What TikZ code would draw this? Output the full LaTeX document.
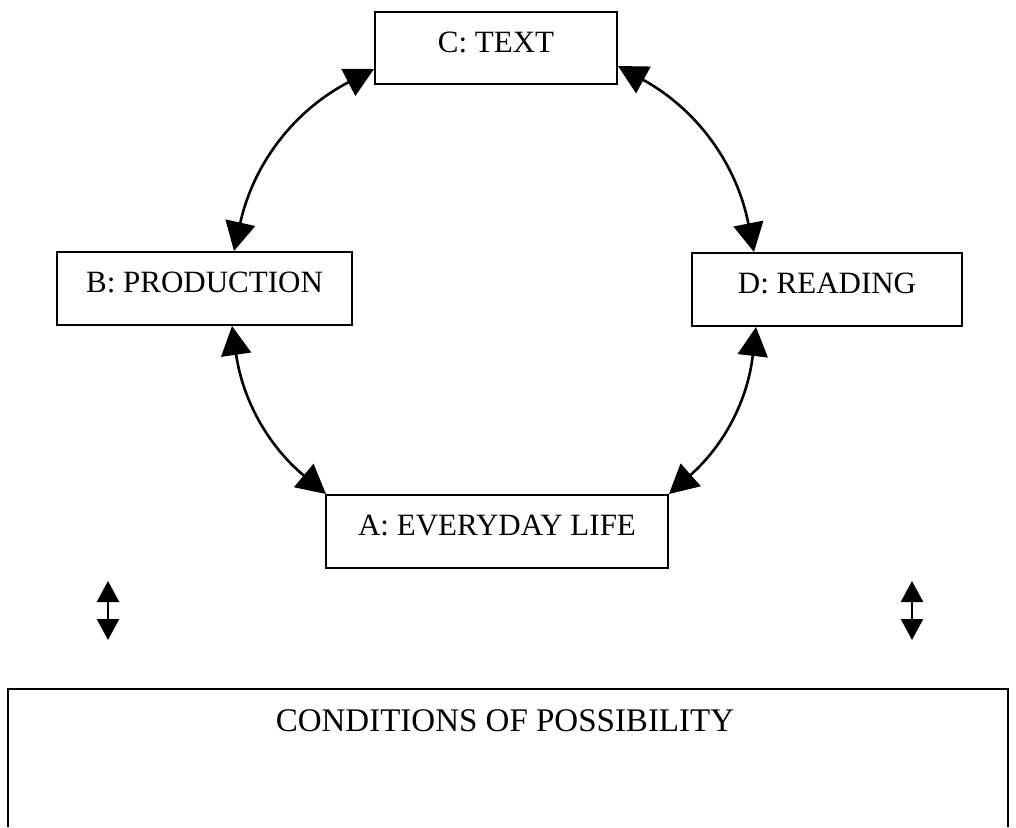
\documentclass[tikz,border=0pt]{standalone}
\usepackage{fontspec}
\setmainfont{Liberation Serif}
\usetikzlibrary{arrows.meta,calc}
\begin{document}
\begin{tikzpicture}[x=1pt,y=1pt,
  box/.style={draw,line width=2pt,rectangle,inner sep=0pt,font=\fontsize{31}{31}\selectfont,text depth=12pt,anchor=center},
  curvearrow/.style={line width=2.6pt,{Triangle[length=29pt,width=30pt]}-{Triangle[length=29pt,width=30pt]}},
  vertarrow/.style={line width=2.4pt,{Triangle[length=21pt,width=22pt]}-{Triangle[length=21pt,width=22pt]}}]
\useasboundingbox (0,0) rectangle (1016,-827);
\node[box,minimum width=242pt,minimum height=72pt] (C) at (496,-48) {C: TEXT};
\node[box,minimum width=295pt,minimum height=73pt] (B) at (204.5,-288.5) {B: PRODUCTION};
\node[box,minimum width=270pt,minimum height=73pt] (D) at (827,-289.5) {D: READING};
\node[box,minimum width=342pt,minimum height=73pt] (A) at (497,-531.5) {A: EVERYDAY LIFE};
\node[font=\fontsize{33}{33}\selectfont,inner sep=0pt] (cond) at (505,-721) {CONDITIONS OF POSSIBILITY};
\draw[line width=2pt] (8,-827) -- (8,-689) -- (1008,-689) -- (1008,-827);
\draw[curvearrow] ($(C.south west)+(0,16)$) to[bend right=25] ($(B.north west)+(178,0)$);
\draw[curvearrow] ($(B.south west)+(176,0)$) to[bend right=21] ($(A.north west)+(1,0)$);
\draw[curvearrow] (A.north east) to[bend right=21] ($(D.south west)+(65,0)$);
\draw[curvearrow] ($(D.north west)+(63,0)$) to[bend right=25] ($(C.south east)+(0,19)$);
\coordinate (l1) at (108,-581);
\coordinate (l2) at (108,-640);
\coordinate (r1) at (912,-581);
\coordinate (r2) at (912,-640);
\draw[vertarrow] (l1) -- (l2);
\draw[vertarrow] (r1) -- (r2);
\end{tikzpicture}
\end{document}
